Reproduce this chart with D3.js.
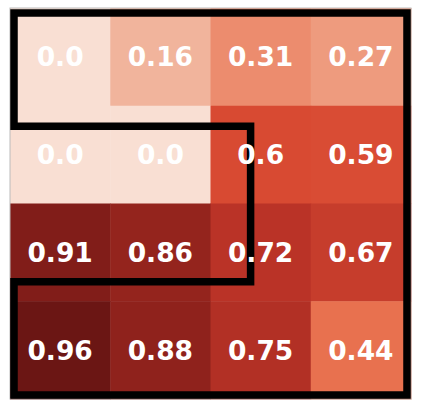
<!DOCTYPE html>
<html>
<head>
<meta charset="utf-8">
<script src="https://cdn.jsdelivr.net/npm/d3@7/dist/d3.min.js"></script>
<style>
  html, body { margin: 0; padding: 0; background: #ffffff; }
  svg { display: block; }
</style>
</head>
<body>
<svg id="chart" width="423" height="407"></svg>
<script>
// ---- data ----
const rows = [0, 1, 2, 3];
const cols = [0, 1, 2, 3];
const values = [
  [0.0, 0.16, 0.31, 0.27],
  [0.0, 0.0, 0.6, 0.59],
  [0.91, 0.86, 0.72, 0.67],
  [0.96, 0.88, 0.75, 0.44]
];
const labels = [
  ["0.0", "0.16", "0.31", "0.27"],
  ["0.0", "0.0", "0.6", "0.59"],
  ["0.91", "0.86", "0.72", "0.67"],
  ["0.96", "0.88", "0.75", "0.44"]
];
// outline polygon (data units, cell centres at integers)
const outlineX = [-0.46, 3.46, 3.46, -0.46, -0.46, 1.9, 1.9, -0.46];
const outlineY = [-0.45, -0.45, 3.46, 3.46, 2.3, 2.3, 0.71, 0.71];

// ---- scales ----
const svg = d3.select("#chart");
const x = d3.scaleLinear().domain([-0.5, 3.5]).range([10, 411]);
const y = d3.scaleLinear().domain([-0.5, 3.5]).range([8, 399]);
const color = d3.scaleLinear()
  .domain([0, 0.16, 0.27, 0.31, 0.44, 0.6, 0.72, 0.88, 0.96])
  .range(["#f9dfd3", "#f1b49c", "#ee9b7e", "#ec8c6e", "#e8714f", "#d84a32", "#ba3327", "#8f221c", "#6b1614"])
  .interpolate(d3.interpolateRgb);

const cells = [];
rows.forEach(r => cols.forEach(c => cells.push({r, c, v: values[r][c], t: labels[r][c]})));

svg.append("g").selectAll("rect").data(cells).join("rect")
  .attr("x", d => x(d.c - 0.5))
  .attr("y", d => y(d.r - 0.5))
  .attr("width", d => x(d.c + 0.5) - x(d.c - 0.5) + 0.5)
  .attr("height", d => y(d.r + 0.5) - y(d.r - 0.5) + 0.5)
  .attr("fill", d => color(d.v));

// frame
svg.append("rect")
  .attr("x", x(-0.5)).attr("y", y(-0.5))
  .attr("width", x(3.5) - x(-0.5)).attr("height", y(3.5) - y(-0.5))
  .attr("fill", "none").attr("stroke", "#bbbbbb").attr("stroke-width", 1);

// outline
const pts = outlineX.map((v, i) => [x(v), y(outlineY[i])]);
svg.append("path")
  .attr("d", d3.line().curve(d3.curveLinearClosed)(pts))
  .attr("fill", "none")
  .attr("stroke", "#000000")
  .attr("stroke-width", 7.5)
  .attr("stroke-linejoin", "miter");

// labels
svg.append("g").selectAll("text").data(cells).join("text")
  .attr("x", d => x(d.c))
  .attr("y", d => y(d.r))
  .attr("text-anchor", "middle")
  .attr("dominant-baseline", "central")
  .attr("font-family", "DejaVu Sans")
  .attr("font-weight", "bold")
  .attr("font-size", 26.5)
  .attr("fill", "#ffffff")
  .text(d => d.t);
</script>
</body>
</html>
